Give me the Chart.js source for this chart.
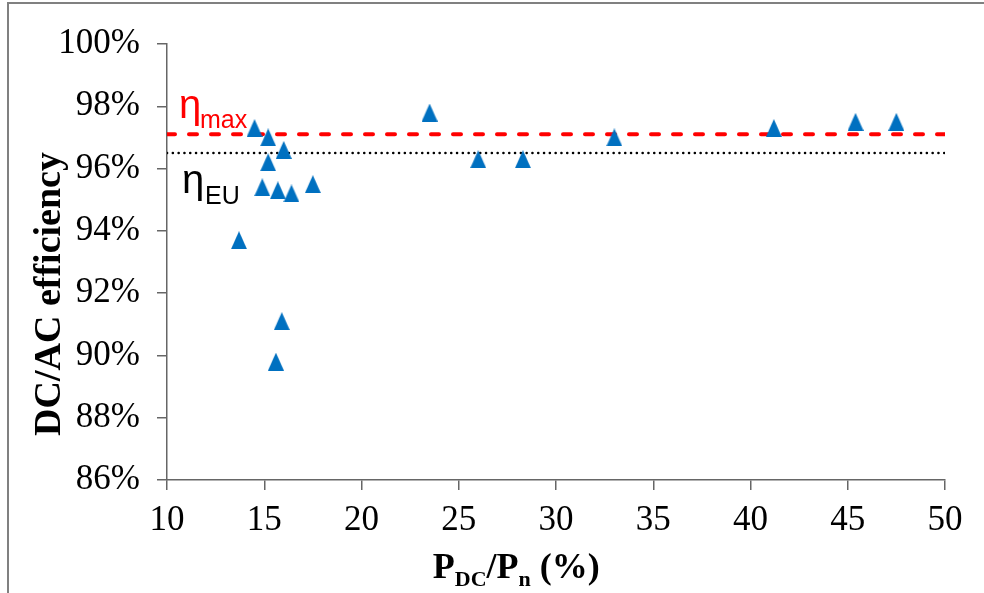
<!DOCTYPE html>
<html>
<head>
<meta charset="utf-8">
<script src="https://cdn.jsdelivr.net/npm/chart.js@4.4.0/dist/chart.umd.min.js"></script>
<style>
  html, body { margin: 0; padding: 0; background: #fff; }
  #wrap { width: 984px; height: 593px; }
</style>
</head>
<body>
<div id="wrap"><canvas id="effChart" width="984" height="593"></canvas></div>
<script>
// measured points: P_DC/P_n (%) and DC/AC efficiency (%)
const loadRatio = [14.5, 15.2, 16.0, 15.2, 14.9, 15.7, 16.4, 17.5, 13.7, 15.9, 15.6, 23.5, 26.0, 28.3, 33.0, 41.2, 45.4, 47.5];
const efficiency = [97.3, 97.0, 96.6, 96.2, 95.4, 95.3, 95.2, 95.5, 93.7, 91.1, 89.8, 97.8, 96.3, 96.3, 97.0, 97.3, 97.5, 97.5];

// reference levels
const etaMax = 97.1;
const etaEU = 96.5;

const xTicks = [10, 15, 20, 25, 30, 35, 40, 45, 50];
const yTicks = [86, 88, 90, 92, 94, 96, 98, 100];

const serif = "'Liberation Serif', 'Times New Roman', serif";
const sans = "'Liberation Sans', Arial, sans-serif";

const points = loadRatio.map((x, i) => ({ x: x, y: efficiency[i] }));
const xMin = xTicks[0];
const xMax = xTicks[xTicks.length - 1];

// marker: a slightly tall triangle like the Excel one
function makeTriangle(w, h, color) {
  const c = document.createElement("canvas");
  c.width = w;
  c.height = h;
  const g = c.getContext("2d");
  g.fillStyle = color;
  g.beginPath();
  g.moveTo(w / 2, 0);
  g.lineTo(w, h);
  g.lineTo(0, h);
  g.closePath();
  g.fill();
  return c;
}
const marker = makeTriangle(16, 18, "#0070c0");

// titles, eta labels and frame drawn on the canvas
const textPlugin = {
  id: "textPlugin",
  beforeDraw(chart) {
    const ctx = chart.ctx;
    ctx.save();
    ctx.strokeStyle = "#808080";
    ctx.lineWidth = 2;
    ctx.beginPath();
    ctx.moveTo(8, 594);
    ctx.lineTo(8, 3);
    ctx.lineTo(984, 3);
    ctx.stroke();
    ctx.restore();
  },
  afterDraw(chart) {
    const ctx = chart.ctx;
    const area = chart.chartArea;
    const ys = chart.scales.y;
    ctx.save();

    // eta max
    const yM = ys.getPixelForValue(etaMax);
    ctx.fillStyle = "#ff0000";
    ctx.textAlign = "left";
    ctx.textBaseline = "alphabetic";
    ctx.font = "40px " + sans;
    ctx.fillText("η", area.left + 12, yM - 16);
    ctx.font = "25px " + sans;
    ctx.fillText("max", area.left + 33, yM - 6);

    // eta EU
    const yE = ys.getPixelForValue(etaEU);
    ctx.fillStyle = "#000";
    ctx.font = "40px " + sans;
    ctx.fillText("η", area.left + 15, yE + 40);
    ctx.font = "25px " + sans;
    ctx.fillText("EU", area.left + 38, yE + 51);

    // y title
    ctx.save();
    ctx.translate(60, 294);
    ctx.rotate(-Math.PI / 2);
    ctx.textAlign = "center";
    ctx.font = "bold 38px " + serif;
    ctx.fillText("DC/AC efficiency", 0, 0);
    ctx.restore();

    // x title with subscripts
    const parts = [["P", false], ["DC", true], ["/P", false], ["n", true], [" (%)", false]];
    const big = "bold 36px " + serif;
    const small = "bold 22px " + serif;
    let total = 0;
    parts.forEach(p => { ctx.font = p[1] ? small : big; total += ctx.measureText(p[0]).width; });
    let x = area.left + area.width * 0.449 - total / 2;
    const base = area.bottom + 98;
    parts.forEach(p => {
      ctx.font = p[1] ? small : big;
      ctx.fillText(p[0], x, p[1] ? base + 8 : base);
      x += ctx.measureText(p[0]).width;
    });
    ctx.restore();
  }
};

const axisColor = "#666";

new Chart(document.getElementById("effChart").getContext("2d"), {
  type: "scatter",
  data: {
    datasets: [
      {
        label: "efficiency",
        data: points,
        pointStyle: marker,
        pointRadius: 9,
        order: 0
      },
      {
        type: "line",
        label: "eta max",
        data: [{ x: xMin, y: etaMax }, { x: xMax, y: etaMax }],
        borderColor: "#ff0000",
        borderWidth: 4,
        borderDash: [8, 14],
        borderCapStyle: "round",
        pointRadius: 0,
        order: 1
      },
      {
        type: "line",
        label: "eta EU",
        data: [{ x: xMin, y: etaEU }, { x: xMax, y: etaEU }],
        borderColor: "#000",
        borderWidth: 2.5,
        borderDash: [0.1, 5.7],
        borderCapStyle: "round",
        pointRadius: 0,
        order: 2
      }
    ]
  },
  options: {
    responsive: false,
    animation: false,
    layout: { padding: { left: 0, top: 44, right: 39, bottom: 0 } },
    plugins: { legend: { display: false }, tooltip: { enabled: false } },
    scales: {
      x: {
        type: "linear",
        min: xMin,
        max: xMax,
        afterBuildTicks: s => { s.ticks = xTicks.map(v => ({ value: v })); },
        afterFit: s => { s.height = 113; },
        grid: { drawOnChartArea: false, drawTicks: true, tickLength: 10, color: axisColor, lineWidth: 1.5 },
        border: { display: true, color: axisColor, width: 1.5 },
        ticks: { color: "#000", font: { family: serif, size: 35 }, padding: 10, maxRotation: 0 }
      },
      y: {
        type: "linear",
        min: yTicks[0],
        max: yTicks[yTicks.length - 1],
        afterBuildTicks: s => { s.ticks = yTicks.map(v => ({ value: v })); },
        afterFit: s => { s.width = 167; },
        grid: { drawOnChartArea: false, drawTicks: true, tickLength: 10, color: axisColor, lineWidth: 1.5 },
        border: { display: true, color: axisColor, width: 1.5 },
        ticks: { color: "#000", font: { family: serif, size: 35 }, padding: 17, callback: v => v + "%" }
      }
    }
  },
  plugins: [textPlugin]
});
</script>
</body>
</html>
